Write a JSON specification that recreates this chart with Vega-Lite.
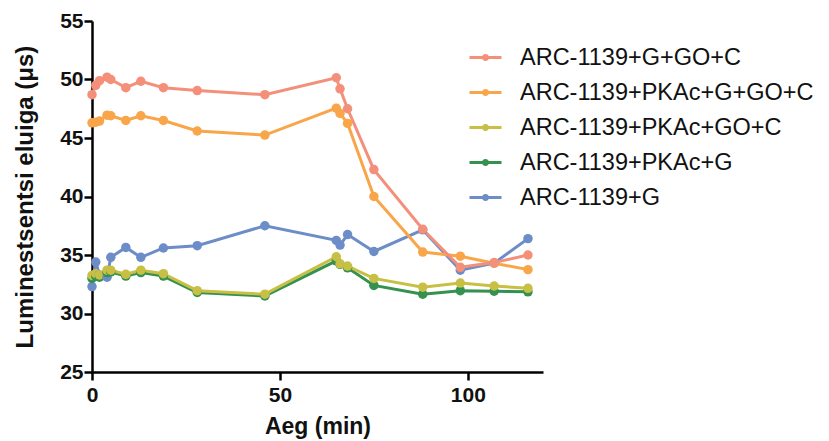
{
  "$schema": "https://vega.github.io/schema/vega-lite/v6.json",
  "autosize": "none",
  "padding": {"left": 92, "top": 21, "right": 286, "bottom": 69},
  "width": 451,
  "height": 351,
  "background": "white",
  "config": {
    "view": {"stroke": null},
    "font": "Liberation Sans",
    "axis": {
      "domainColor": "black", "domainWidth": 2.5, "tickColor": "black", "tickWidth": 2.5, "tickSize": 8,
      "labelFont": "Liberation Sans", "labelFontWeight": "bold", "labelFontSize": 21, "labelColor": "#111",
      "titleFont": "Liberation Sans", "titleFontWeight": "bold", "titleFontSize": 23, "titleColor": "#111",
      "grid": false
    }
  },
  "data": {"values": [
    {"t":0,"s":"ARC-1139+G","v":32.3},{"t":1,"s":"ARC-1139+G","v":34.4},{"t":2,"s":"ARC-1139+G","v":33.3},{"t":4,"s":"ARC-1139+G","v":33.1},{"t":5,"s":"ARC-1139+G","v":34.8},{"t":9,"s":"ARC-1139+G","v":35.65},{"t":13,"s":"ARC-1139+G","v":34.8},{"t":19,"s":"ARC-1139+G","v":35.6},{"t":28,"s":"ARC-1139+G","v":35.8},{"t":46,"s":"ARC-1139+G","v":37.5},{"t":65,"s":"ARC-1139+G","v":36.25},{"t":66,"s":"ARC-1139+G","v":35.85},{"t":68,"s":"ARC-1139+G","v":36.75},{"t":75,"s":"ARC-1139+G","v":35.3},{"t":88,"s":"ARC-1139+G","v":37.15},{"t":98,"s":"ARC-1139+G","v":33.7},{"t":107,"s":"ARC-1139+G","v":34.3},{"t":116,"s":"ARC-1139+G","v":36.4},
    {"t":0,"s":"ARC-1139+PKAc+G","v":33.0},{"t":1,"s":"ARC-1139+PKAc+G","v":33.2},{"t":2,"s":"ARC-1139+PKAc+G","v":33.1},{"t":4,"s":"ARC-1139+PKAc+G","v":33.5},{"t":5,"s":"ARC-1139+PKAc+G","v":33.55},{"t":9,"s":"ARC-1139+PKAc+G","v":33.2},{"t":13,"s":"ARC-1139+PKAc+G","v":33.5},{"t":19,"s":"ARC-1139+PKAc+G","v":33.2},{"t":28,"s":"ARC-1139+PKAc+G","v":31.8},{"t":46,"s":"ARC-1139+PKAc+G","v":31.5},{"t":65,"s":"ARC-1139+PKAc+G","v":34.5},{"t":66,"s":"ARC-1139+PKAc+G","v":34.2},{"t":68,"s":"ARC-1139+PKAc+G","v":33.9},{"t":75,"s":"ARC-1139+PKAc+G","v":32.4},{"t":88,"s":"ARC-1139+PKAc+G","v":31.65},{"t":98,"s":"ARC-1139+PKAc+G","v":31.95},{"t":107,"s":"ARC-1139+PKAc+G","v":31.9},{"t":116,"s":"ARC-1139+PKAc+G","v":31.85},
    {"t":0,"s":"ARC-1139+PKAc+GO+C","v":33.25},{"t":1,"s":"ARC-1139+PKAc+GO+C","v":33.4},{"t":2,"s":"ARC-1139+PKAc+GO+C","v":33.3},{"t":4,"s":"ARC-1139+PKAc+GO+C","v":33.7},{"t":5,"s":"ARC-1139+PKAc+GO+C","v":33.7},{"t":9,"s":"ARC-1139+PKAc+GO+C","v":33.35},{"t":13,"s":"ARC-1139+PKAc+GO+C","v":33.7},{"t":19,"s":"ARC-1139+PKAc+GO+C","v":33.4},{"t":28,"s":"ARC-1139+PKAc+GO+C","v":31.95},{"t":46,"s":"ARC-1139+PKAc+GO+C","v":31.65},{"t":65,"s":"ARC-1139+PKAc+GO+C","v":34.85},{"t":66,"s":"ARC-1139+PKAc+GO+C","v":34.25},{"t":68,"s":"ARC-1139+PKAc+GO+C","v":34.05},{"t":75,"s":"ARC-1139+PKAc+GO+C","v":33.0},{"t":88,"s":"ARC-1139+PKAc+GO+C","v":32.25},{"t":98,"s":"ARC-1139+PKAc+GO+C","v":32.6},{"t":107,"s":"ARC-1139+PKAc+GO+C","v":32.35},{"t":116,"s":"ARC-1139+PKAc+GO+C","v":32.15},
    {"t":0,"s":"ARC-1139+PKAc+G+GO+C","v":46.3},{"t":1,"s":"ARC-1139+PKAc+G+GO+C","v":46.35},{"t":2,"s":"ARC-1139+PKAc+G+GO+C","v":46.45},{"t":4,"s":"ARC-1139+PKAc+G+GO+C","v":46.95},{"t":5,"s":"ARC-1139+PKAc+G+GO+C","v":46.9},{"t":9,"s":"ARC-1139+PKAc+G+GO+C","v":46.5},{"t":13,"s":"ARC-1139+PKAc+G+GO+C","v":46.9},{"t":19,"s":"ARC-1139+PKAc+G+GO+C","v":46.5},{"t":28,"s":"ARC-1139+PKAc+G+GO+C","v":45.6},{"t":46,"s":"ARC-1139+PKAc+G+GO+C","v":45.25},{"t":65,"s":"ARC-1139+PKAc+G+GO+C","v":47.55},{"t":66,"s":"ARC-1139+PKAc+G+GO+C","v":47.1},{"t":68,"s":"ARC-1139+PKAc+G+GO+C","v":46.25},{"t":75,"s":"ARC-1139+PKAc+G+GO+C","v":40.0},{"t":88,"s":"ARC-1139+PKAc+G+GO+C","v":35.25},{"t":98,"s":"ARC-1139+PKAc+G+GO+C","v":34.9},{"t":107,"s":"ARC-1139+PKAc+G+GO+C","v":34.3},{"t":116,"s":"ARC-1139+PKAc+G+GO+C","v":33.75},
    {"t":0,"s":"ARC-1139+G+GO+C","v":48.7},{"t":1,"s":"ARC-1139+G+GO+C","v":49.5},{"t":2,"s":"ARC-1139+G+GO+C","v":49.9},{"t":4,"s":"ARC-1139+G+GO+C","v":50.2},{"t":5,"s":"ARC-1139+G+GO+C","v":50.0},{"t":9,"s":"ARC-1139+G+GO+C","v":49.3},{"t":13,"s":"ARC-1139+G+GO+C","v":49.85},{"t":19,"s":"ARC-1139+G+GO+C","v":49.3},{"t":28,"s":"ARC-1139+G+GO+C","v":49.05},{"t":46,"s":"ARC-1139+G+GO+C","v":48.7},{"t":65,"s":"ARC-1139+G+GO+C","v":50.15},{"t":66,"s":"ARC-1139+G+GO+C","v":49.2},{"t":68,"s":"ARC-1139+G+GO+C","v":47.5},{"t":75,"s":"ARC-1139+G+GO+C","v":42.3},{"t":88,"s":"ARC-1139+G+GO+C","v":37.2},{"t":98,"s":"ARC-1139+G+GO+C","v":33.95},{"t":107,"s":"ARC-1139+G+GO+C","v":34.35},{"t":116,"s":"ARC-1139+G+GO+C","v":35.0}
  ]},
  "mark": {"type": "line", "strokeWidth": 3, "point": {"filled": true, "size": 90, "opacity": 1}},
  "encoding": {
    "x": {"field": "t", "type": "quantitative", "title": "Aeg (min)",
      "scale": {"domain": [0, 120], "nice": false, "zero": false},
      "axis": {"values": [0, 50, 100], "labelPadding": 4, "titlePadding": 10, "labelFlush": false}},
    "y": {"field": "v", "type": "quantitative", "title": "Luminestsentsi eluiga (μs)",
      "scale": {"domain": [25, 55], "nice": false, "zero": false},
      "axis": {"values": [25, 30, 35, 40, 45, 50, 55], "labelPadding": 1, "titlePadding": 22, "titleFontSize": 24}},
    "color": {"field": "s", "type": "nominal", "sort": null,
      "scale": {
        "domain": ["ARC-1139+G+GO+C", "ARC-1139+PKAc+G+GO+C", "ARC-1139+PKAc+GO+C", "ARC-1139+PKAc+G", "ARC-1139+G"],
        "range": ["#F4907A", "#F9A54A", "#C8BF45", "#34914F", "#6C8DC7"]},
      "legend": {
        "title": null, "orient": "none", "legendX": 376, "legendY": 19, "padding": 0,
        "labelFontSize": 23.5, "labelFont": "Liberation Sans", "labelColor": "#111", "labelLimit": 400,
        "symbolType": "M-1,0H1M-0.13,0A0.13,0.13 0 1,0 0.13,0A0.13,0.13 0 1,0 -0.13,0Z",
        "symbolSize": 1024, "symbolStrokeWidth": 3, "labelOffset": 17, "rowPadding": 6,
        "encode": {"symbols": {"update": {"fill": {"scale": "color", "field": "value"}, "opacity": {"value": 1}}}}
      }
    },
    "order": {"field": "t", "type": "quantitative"}
  }
}
